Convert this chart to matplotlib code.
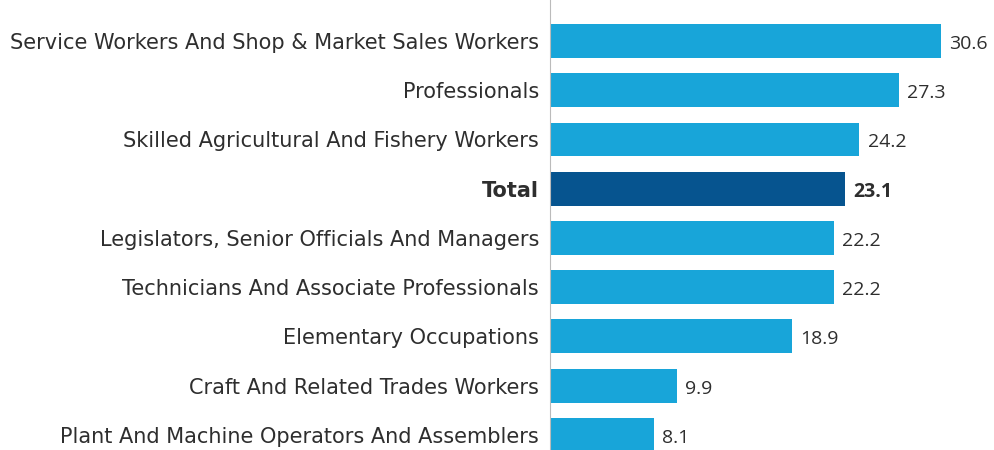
import matplotlib
matplotlib.use('Agg')
import matplotlib.pyplot as plt
import numpy as np

# Data
categories = [
    'Service Workers And Shop & Market Sales Workers',
    'Professionals',
    'Skilled Agricultural And Fishery Workers',
    'Total',
    'Legislators, Senior Officials And Managers',
    'Technicians And Associate Professionals',
    'Elementary Occupations',
    'Craft And Related Trades Workers',
    'Plant And Machine Operators And Assemblers',
]
values = [30.6, 27.3, 24.2, 23.1, 22.2, 22.2, 18.9, 9.9, 8.1]
highlight = 'Total'

light_blue = '#18a5d9'
dark_blue = '#06548f'
text_color = '#2e2e2e'

fig = plt.figure(figsize=(9.95, 4.5), dpi=100)
ax = fig.add_axes([550 / 995, 0, 445 / 995, 1])

y = np.arange(len(categories))
colors = [dark_blue if c == highlight else light_blue for c in categories]
ax.barh(y, values, height=0.69, color=colors, zorder=2)

ax.set_xlim(0, 34.82)
ax.set_ylim(8.305, -0.8325)

for spine in ['top', 'right', 'bottom']:
    ax.spines[spine].set_visible(False)
ax.spines['left'].set_color('#bbbbbb')
ax.spines['left'].set_linewidth(0.8)
ax.set_xticks([])
ax.set_yticks(y)
ax.set_yticklabels(categories)
ax.tick_params(axis='y', length=0, pad=8)

for lbl, c in zip(ax.get_yticklabels(), categories):
    lbl.set_fontsize(15)
    lbl.set_color(text_color)
    if c == highlight:
        lbl.set_fontweight('bold')

for yi, v, c in zip(y, values, categories):
    ax.text(v + 0.65, yi + 0.06, f'{v:.1f}', va='center', ha='left',
            fontsize=14, color=text_color, family='Open Sans',
            fontweight='bold' if c == highlight else 'normal')

fig.savefig('out.png', dpi=100)
